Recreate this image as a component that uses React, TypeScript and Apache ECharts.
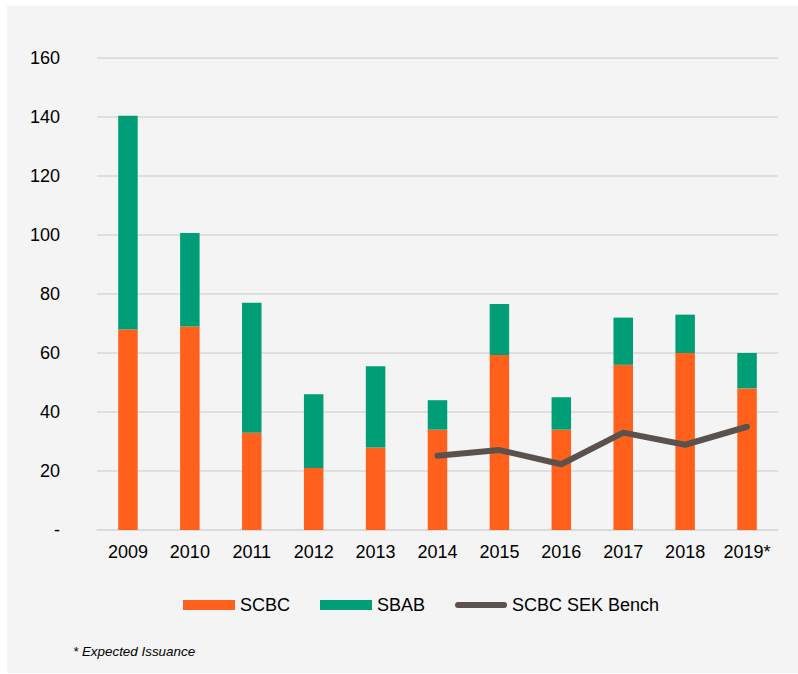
import React, { useEffect, useRef } from "react";
import * as echarts from "echarts";

const categories = ["2009", "2010", "2011", "2012", "2013", "2014", "2015", "2016", "2017", "2018", "2019*"];
const scbc = [68, 69, 33, 21, 28, 34, 59.3, 34, 56, 60, 48];
const sbab = [72.4, 31.7, 44, 25, 27.5, 10, 17.3, 11, 16, 13, 12];
const bench: (number | null)[] = [null, null, null, null, null, 25.2, 27.1, 22.3, 33, 28.9, 35];
const yTicks = { min: 0, max: 160, interval: 20 };

const FONT = "Liberation Sans, Arial, sans-serif";
const LINE_ICON = "path://M3,0 L51,0 A3,3 0 0 1 51,6 L3,6 A3,3 0 0 1 3,0 Z";

export default function App() {
  const ref = useRef<HTMLDivElement>(null);
  useEffect(() => {
    document.body.style.margin = "0";
    const chart = echarts.init(ref.current!, null, { renderer: "svg" });
    chart.setOption({
      animation: false,
      backgroundColor: "#ffffff",
      textStyle: { fontFamily: FONT },
      graphic: [
        { type: "rect", z: -10, shape: { x: 7, y: 6, width: 791, height: 667 }, style: { fill: "#f4f4f4" } },
        {
          type: "text",
          x: 73,
          y: 651,
          style: { text: "* Expected Issuance", fontSize: 13.4, fontStyle: "italic", fontFamily: FONT, fill: "#000", verticalAlign: "middle" },
        },
      ],
      grid: { left: 97, right: 20, top: 58, bottom: 144 },
      legend: {
        left: 178,
        top: 591,
        itemWidth: 52,
        itemHeight: 10,
        itemGap: 30,
        textStyle: { fontSize: 18, color: "#000", fontFamily: FONT },
        data: [
          { name: "SCBC", icon: "rect" },
          { name: "SBAB", icon: "rect" },
          { name: "SCBC SEK Bench", icon: LINE_ICON },
        ],
      },
      xAxis: {
        type: "category",
        data: categories,
        axisLine: { lineStyle: { color: "#d9d9d9", width: 1.5 } },
        axisTick: { show: false },
        axisLabel: { fontSize: 18, color: "#000", margin: 13, fontFamily: FONT },
      },
      yAxis: {
        type: "value",
        min: yTicks.min,
        max: yTicks.max,
        interval: yTicks.interval,
        axisLine: { show: false },
        axisTick: { show: false },
        axisLabel: {
          fontSize: 18,
          color: "#000",
          margin: 37,
          fontFamily: FONT,
          formatter: (v: number) => (v === 0 ? "-" : String(v)),
        },
        splitLine: { lineStyle: { color: "#d9d9d9", width: 1.5 } },
      },
      series: [
        { name: "SCBC", type: "bar", stack: "a", data: scbc, barWidth: "31.5%", itemStyle: { color: "#ff611c" } },
        { name: "SBAB", type: "bar", stack: "a", data: sbab, barWidth: "31.5%", itemStyle: { color: "#009e77" } },
        {
          name: "SCBC SEK Bench",
          type: "line",
          data: bench,
          symbol: "none",
          lineStyle: { color: "#5b524e", width: 6, cap: "round", join: "round" },
          itemStyle: { color: "#5b524e" },
          z: 5,
        },
      ],
    });
    return () => chart.dispose();
  }, []);
  return <div ref={ref} style={{ width: 798, height: 674 }} />;
}
